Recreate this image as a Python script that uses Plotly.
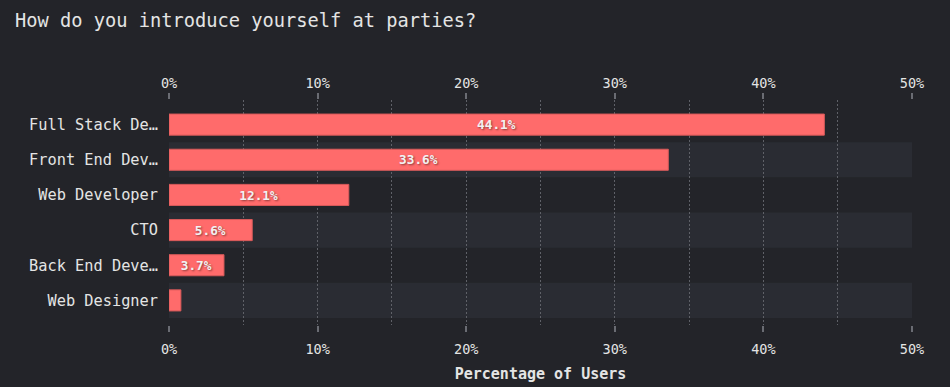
import plotly.graph_objects as go

categories = ["Full Stack De…", "Front End Dev…", "Web Developer", "CTO", "Back End Deve…", "Web Designer"]
values = [44.1, 33.6, 12.1, 5.6, 3.7, 0.8]
tick_vals = [0, 10, 20, 30, 40, 50]
tick_text = ["0%", "10%", "20%", "30%", "40%", "50%"]

BG = "#232429"
BAND = "#2a2c33"
BAR = "#ff6b6b"
TXT = "#e4e4e4"
GRID = "#5f6168"
FONT = "DejaVu Sans Mono"

labels = [f"{v}%" if v >= 2 else "" for v in values]

fig = go.Figure()
fig.add_trace(go.Bar(
    x=values, y=categories, orientation="h", width=0.6,
    marker=dict(color=BAR, line=dict(color="#d85a5a", width=1)),
    text=labels, textposition="inside", insidetextanchor="middle",
    textfont=dict(family=FONT, size=13.5, color="#f2f2f2", weight="bold",
                  shadow="1px 1px 2px rgba(0,0,0,0.45)"),
    cliponaxis=False, hoverinfo="skip", showlegend=False,
))
fig.add_trace(go.Scatter(
    x=values, y=categories, xaxis="x2", mode="markers",
    marker=dict(opacity=0), hoverinfo="skip", showlegend=False,
))

shapes = []
for i in range(len(categories)):
    if i % 2 == 1:
        shapes.append(dict(type="rect", xref="paper", yref="y", x0=0, x1=1,
                           y0=i - 0.5, y1=i + 0.5, fillcolor=BAND,
                           line=dict(width=0), layer="below"))

axis_common = dict(
    range=[0, 50], tickvals=tick_vals, ticktext=tick_text,
    showgrid=True, gridcolor=GRID, griddash="2px,2px", gridwidth=1,
    minor=dict(dtick=5, tick0=0, showgrid=True, gridcolor=GRID, griddash="2px,2px", ticks=""),
    ticks="outside", ticklen=6, tickcolor="#6a6c73", tickwidth=2,
    zeroline=False, showline=False, automargin=False,
    tickfont=dict(family=FONT, size=13.5, color=TXT),
)

fig.update_layout(
    width=950, height=387,
    paper_bgcolor=BG, plot_bgcolor=BG,
    margin=dict(l=169, r=38, t=100, b=62, autoexpand=False),
    title=dict(text="How do you introduce yourself at parties?", x=15/950, xref="container",
               xanchor="left", y=1 - 20/387, yref="container", yanchor="middle",
               font=dict(family=FONT, size=18.7, color=TXT), automargin=False),
    xaxis=dict(**axis_common, ticklabelstandoff=6,
               title=dict(text="Percentage of Users", standoff=12,
                          font=dict(family=FONT, size=15, color=TXT, weight="bold"))),
    xaxis2=dict(**axis_common, overlaying="x", side="top", matches="x"),
    yaxis=dict(range=[5.7, -0.7], showgrid=False, zeroline=False, ticks="",
               ticklabelstandoff=10, automargin=False,
               tickfont=dict(family=FONT, size=15.3, color=TXT)),
    shapes=shapes,
    bargap=0.4,
)

fig.write_html("out.html", config={"displayModeBar": False},
               post_script="document.body.style.margin='0';document.body.style.background='#232429';")
